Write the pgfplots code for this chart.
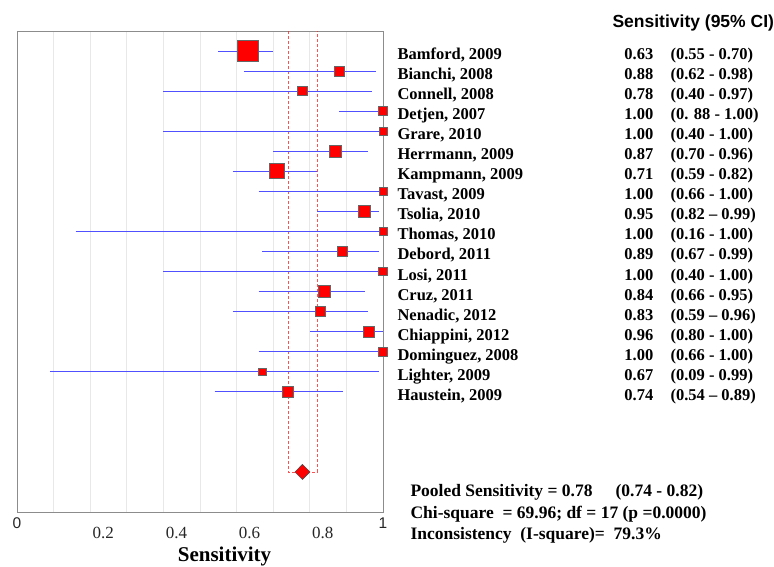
\documentclass[border=0pt]{standalone}
\usepackage{fontspec}
\setmainfont{Liberation Serif}
\newfontfamily\arialfont{Liberation Sans}
\usepackage{pgfplots}
\pgfplotsset{compat=1.18}
\usepackage{pgfplotstable}
\definecolor{boxred}{RGB}{255,0,0}
\definecolor{framegray}{RGB}{140,140,140}
\definecolor{ciblue}{RGB}{80,80,255}

% row, estimate, half side of the square (pt)
\pgfplotstableread[col sep=comma]{
row,est,sz
1,0.63,10.3
2,0.88,5
3,0.78,4.7
4,1.00,4.5
5,1.00,4
6,0.87,6
7,0.71,7.5
8,1.00,4
9,0.95,6
10,1.00,4
11,0.89,5
12,1.00,4.2
13,0.84,6
14,0.83,5
15,0.96,5.5
16,1.00,4.5
17,0.67,3.8
18,0.74,5.5
}\studies

\newcommand\studyrow[4]{%
  \node[anchor=base west, yshift=-8.5pt] at (axis cs:1.030,#1) {#2};
  \node[anchor=base west, yshift=-8.5pt] at (axis cs:1.650,#1) {#3};
  \node[anchor=base west, yshift=-8.5pt] at (axis cs:1.776,#1) {#4};
}

\begin{document}
\begin{tikzpicture}
\path[use as bounding box] (0,0) rectangle (774pt,-566pt);
\begin{axis}[
  at={(17pt,-512pt)}, anchor=south west,
  scale only axis, width=366pt, height=481pt,
  xmin=0, xmax=1, ymin=0, ymax=24, y dir=reverse,
  clip=false,
  ci/.style={ciblue, line width=1pt, mark=none, forget plot},
  axis line style={framegray, line width=1pt},
  ytick=\empty,
  xtick={0.2,0.4,0.6,0.8},
  xticklabels={0.2,0.4,0.6,0.8},
  minor xtick={0.1,0.3,0.5,0.7,0.9},
  major tick length=0pt, minor tick length=0pt,
  xmajorgrids, xminorgrids,
  major grid style={gray!18, line width=0.7pt},
  minor grid style={gray!18, line width=0.7pt},
  /pgf/number format/assume math mode=true,
  xticklabel style={anchor=center, xshift=13pt, yshift=-21pt,
    font=\fontsize{17}{20}\selectfont, text=black!85},
  extra x ticks={0,1},
  extra x tick labels={0,1},
  extra x tick style={grid=none, xticklabel style={xshift=-13pt, yshift=10pt,
    font=\arialfont\fontsize{15.5}{18}\selectfont}},
  xlabel={\textbf{Sensitivity}},
  every axis x label/.style={at={(rel axis cs:0.567,0)}, anchor=center,
    yshift=-44pt, font=\fontsize{21}{24}\selectfont},
]
% pooled confidence band
\addplot[red!85, densely dashed, line width=0.6pt, opacity=0.8]
  coordinates {(0.74,0) (0.74,22) (0.82,22) (0.82,0)};
% study squares
\addplot[scatter, only marks, mark=square*,
  scatter/use mapped color={draw=black!60, fill=boxred},
  mark options={line width=0.7pt},
  point meta=explicit,
  visualization depends on={\thisrow{sz} \as \perpointmarksize},
  scatter/@pre marker code/.append style={/tikz/mark size=\perpointmarksize}]
  table[x=est, y=row, meta=est] {\studies};
% 95% confidence intervals, drawn over the squares
\addplot[ci] coordinates {(0.55,1) (0.70,1)};
\addplot[ci] coordinates {(0.62,2) (0.98,2)};
\addplot[ci] coordinates {(0.40,3) (0.97,3)};
\addplot[ci] coordinates {(0.88,4) (1.00,4)};
\addplot[ci] coordinates {(0.40,5) (1.00,5)};
\addplot[ci] coordinates {(0.70,6) (0.96,6)};
\addplot[ci] coordinates {(0.59,7) (0.82,7)};
\addplot[ci] coordinates {(0.66,8) (1.00,8)};
\addplot[ci] coordinates {(0.82,9) (0.99,9)};
\addplot[ci] coordinates {(0.16,10) (1.00,10)};
\addplot[ci] coordinates {(0.67,11) (0.99,11)};
\addplot[ci] coordinates {(0.40,12) (1.00,12)};
\addplot[ci] coordinates {(0.66,13) (0.95,13)};
\addplot[ci] coordinates {(0.59,14) (0.96,14)};
\addplot[ci] coordinates {(0.80,15) (1.00,15)};
\addplot[ci] coordinates {(0.66,16) (1.00,16)};
\addplot[ci] coordinates {(0.09,17) (0.99,17)};
\addplot[ci] coordinates {(0.54,18) (0.89,18)};
% pooled estimate
\addplot[only marks, mark=diamond*, mark size=7.5pt,
  mark options={xscale=1.33, fill=boxred, draw=black!70, line width=0.6pt}]
  coordinates {(0.78,22)};

\begin{scope}[font=\bfseries\fontsize{16.5}{20}\selectfont]
\studyrow{1}{Bamford, 2009}{0.63}{(0.55 - 0.70)}
\studyrow{2}{Bianchi, 2008}{0.88}{(0.62 - 0.98)}
\studyrow{3}{Connell, 2008}{0.78}{(0.40 - 0.97)}
\studyrow{4}{Detjen, 2007}{1.00}{(0. 88 - 1.00)}
\studyrow{5}{Grare, 2010}{1.00}{(0.40 - 1.00)}
\studyrow{6}{Herrmann, 2009}{0.87}{(0.70 - 0.96)}
\studyrow{7}{Kampmann, 2009}{0.71}{(0.59 - 0.82)}
\studyrow{8}{Tavast, 2009}{1.00}{(0.66 - 1.00)}
\studyrow{9}{Tsolia, 2010}{0.95}{(0.82 – 0.99)}
\studyrow{10}{Thomas, 2010}{1.00}{(0.16 - 1.00)}
\studyrow{11}{Debord, 2011}{0.89}{(0.67 - 0.99)}
\studyrow{12}{Losi, 2011}{1.00}{(0.40 - 1.00)}
\studyrow{13}{Cruz, 2011}{0.84}{(0.66 - 0.95)}
\studyrow{14}{Nenadic, 2012}{0.83}{(0.59 – 0.96)}
\studyrow{15}{Chiappini, 2012}{0.96}{(0.80 - 1.00)}
\studyrow{16}{Dominguez, 2008}{1.00}{(0.66 - 1.00)}
\studyrow{17}{Lighter, 2009}{0.67}{(0.09 - 0.99)}
\studyrow{18}{Haustein, 2009}{0.74}{(0.54 – 0.89)}
\end{scope}

\node[anchor=base west, yshift=24pt, font=\arialfont\bfseries\fontsize{17.5}{20}\selectfont]
  at (axis cs:1.6175,1) {Sensitivity (95\% CI)};

\begin{scope}[font=\bfseries\fontsize{17.5}{20}\selectfont]
\node[anchor=base west, yshift=-24.5pt] at (axis cs:1.0656,22) {Pooled Sensitivity = 0.78};
\node[anchor=base west, yshift=-24.5pt] at (axis cs:1.626,22) {(0.74 - 0.82)};
\node[anchor=base west, yshift=-47pt] at (axis cs:1.0656,22) {Chi-square \ = 69.96; df = 17 (p =0.0000)};
\node[anchor=base west, yshift=-68pt] at (axis cs:1.0656,22) {Inconsistency \ (I-square)= \ 79.3\%};
\end{scope}
\end{axis}
\end{tikzpicture}
\end{document}
